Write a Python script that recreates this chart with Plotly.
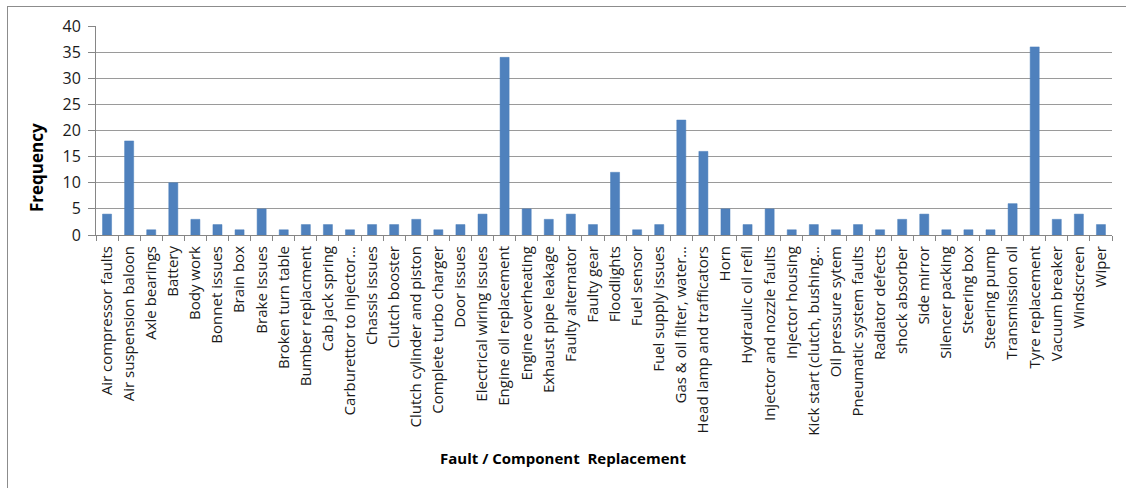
import plotly.graph_objects as go

categories = [
    "Air compressor faults", "Air suspension baloon", "Axle bearings", "Battery", "Body work",
    "Bonnet issues", "Brain box", "Brake Issues", "Broken turn table", "Bumber replacment",
    "Cab jack spring", "Carburettor to injector…", "Chassis issues", "Clutch booster",
    "Clutch cylinder and piston", "Complete turbo charger", "Door issues",
    "Electrical wiring issues", "Engine oil replacement", "Engine overheating",
    "Exhaust pipe leakage", "Faulty alternator", "Faulty gear", "Floodlights", "Fuel sensor",
    "Fuel supply issues", "Gas & oil filter, water…", "Head lamp and trafficators", "Horn",
    "Hydraulic oil refil", "Injector and nozzle faults", "Injector housing",
    "Kick start (clutch, bushing…", "Oil pressure sytem", "Pneumatic system faults",
    "Radiator defects", "shock absorber", "Side mirror", "Silencer packing", "Steering box",
    "Steering pump", "Transmission oil", "Tyre replacement", "Vacuum breaker", "Windscreen",
    "Wiper",
]
frequency = [
    4, 18, 1, 10, 3, 2, 1, 5, 1, 2,
    2, 1, 2, 2, 3, 1, 2, 4, 34, 5,
    3, 4, 2, 12, 1, 2, 22, 16, 5, 2,
    5, 1, 2, 1, 2, 1, 3, 4, 1, 1,
    1, 6, 36, 3, 4, 2,
]
y_ticks = [0, 5, 10, 15, 20, 25, 30, 35, 40]

W, H = 1126, 488
L, R, T, B = 96, 1112, 26, 235
pw, ph = R - L, B - T

def px_x(x):
    return (x - L) / pw

def px_y(y):
    return (B - y) / ph

font_family = "'Open Sans', sans-serif"

fig = go.Figure(go.Bar(
    x=categories, y=frequency,
    marker=dict(color="#4F81BD", line=dict(color="#4A7EBB", width=0.5)),
))

fig.update_layout(
    width=W, height=H,
    margin=dict(l=L, r=W - R, t=T, b=H - B, autoexpand=False),
    paper_bgcolor="white", plot_bgcolor="white",
    bargap=0.59,
    showlegend=False,
    font=dict(family=font_family, size=13, color="#1a1a1a"),
    xaxis=dict(
        type="category", tickangle=-90, tickson="boundaries", automargin=False,
        ticks="outside", ticklen=5, tickcolor="#868686", ticklabelstandoff=4,
        showline=True, linecolor="#868686", linewidth=1,
        showgrid=False, tickfont=dict(size=15, family=font_family),
    ),
    yaxis=dict(
        range=[0, 40], tickvals=y_ticks, ticks="outside", ticklen=7, automargin=False,
        tickcolor="#868686", showline=True, linecolor="#868686", linewidth=1,
        ticklabelstandoff=4,
        showgrid=True, gridcolor="#9a9a9a", gridwidth=1, zeroline=False,
        tickfont=dict(size=16, family=font_family),
    ),
    shapes=[
        dict(type="line", xref="paper", yref="paper",
             x0=px_x(7), x1=px_x(1126), y0=px_y(6.5), y1=px_y(6.5),
             line=dict(color="#8c8c8c", width=1), layer="below"),
        dict(type="line", xref="paper", yref="paper",
             x0=px_x(7.5), x1=px_x(7.5), y0=px_y(6), y1=px_y(488),
             line=dict(color="#8c8c8c", width=1), layer="below"),
    ],
    annotations=[
        dict(text="<b>Frequency</b>", xref="paper", yref="paper",
             x=px_x(36), y=px_y(168), xanchor="center", yanchor="middle",
             textangle=-90, showarrow=False,
             font=dict(size=17, family=font_family, color="#000")),
        dict(text="<b>Fault / Component  Replacement</b>", xref="paper", yref="paper",
             x=px_x(563), y=px_y(458), xanchor="center", yanchor="middle",
             showarrow=False,
             font=dict(size=15, family=font_family, color="#000")),
    ],
)

fig.write_html("out.html", config={"displayModeBar": False},
               post_script="document.body.style.margin='0';")
